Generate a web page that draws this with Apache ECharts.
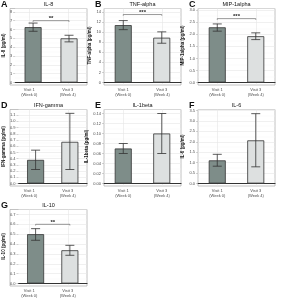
<!DOCTYPE html>
<html>
<head>
<meta charset="utf-8">
<script src="https://cdn.jsdelivr.net/npm/echarts@6/dist/echarts.min.js"></script>
<style>
html, body { margin: 0; padding: 0; background: #fff; }
#main { width: 282px; height: 300px; }
</style>
</head>
<body>
<div id="main"></div>
<script>
// panel data
var panelLetters = ['A', 'B', 'C', 'D', 'E', 'F', 'G'];
var analytes = ['IL-8', 'TNF-alpha', 'MIP-1alpha', 'IFN-gamma', 'IL-1beta', 'IL-6', 'IL-10'];
var visits = ['Visit 1\n(Week 0)', 'Visit 3\n(Week 4)'];
var meanValues = [[6.27, 5.0], [11.4, 8.9], [2.29, 1.92], [0.38, 0.67], [0.070, 0.100], [1.11, 2.07], [0.50, 0.337]];
var errLow = [[5.8, 4.6], [10.5, 7.8], [2.13, 1.78], [0.225, 0.225], [0.060, 0.060], [0.83, 0.80], [0.438, 0.286]];
var errHigh = [[6.73, 5.35], [12.3, 10.06], [2.43, 2.06], [0.536, 1.128], [0.080, 0.140], [1.40, 3.35], [0.556, 0.387]];
var tickSteps = [1, 2, 0.5, 0.1, 0.02, 0.5, 0.1];
var axisMax = [8.38, 14.7, 3.07, 1.19, 0.148, 3.55, 0.75];
var tickDecimals = [0, 0, 1, 1, 2, 1, 1];
var bracketLevels = [7.0, 13.5, 2.65, null, null, null, 0.6];
var bracketStars = ['**', '***', '***', '', '', '', '**'];

var barColors = ['#7e8d89', '#dde0e0'];
var font = 'Liberation Sans, Arial, sans-serif';
var colX = [0, 94, 188];
var rowY = [0, 101, 201];

var chart = echarts.init(document.getElementById('main'), null, {renderer: 'canvas'});

var grids = [], xAxes = [], yAxes = [], series = [], graphics = [];

analytes.forEach(function(name, i) {
    var px = colX[i % 3];
    var py = rowY[Math.floor(i / 3)];
    var left = px + 10, top = py + 8.5, w = 77, h = 76.5;
    var f = 2 * i, d = 2 * i + 1;

    // frame grid (border, x labels, vertical grid lines)
    grids.push({left: left, top: top, width: w, height: h, show: true,
        borderColor: '#b3b3b3', borderWidth: 0.8, backgroundColor: '#fff'});
    // data grid, zero sits a little above the frame bottom
    grids.push({left: left, top: top, width: w, height: h - 2.5});

    xAxes.push({
        gridIndex: f, type: 'category', data: visits,
        axisLine: {show: false},
        axisTick: {alignWithLabel: true, length: 2, lineStyle: {color: '#b3b3b3', width: 0.6}},
        axisLabel: {fontSize: 4, color: '#4d4d4d', lineHeight: 4.6, margin: 2.5, fontFamily: font},
        splitLine: {show: true, alignWithLabel: true, lineStyle: {color: '#e6e6e6', width: 0.6}}
    });
    yAxes.push({gridIndex: f, type: 'value', show: false, min: 0, max: 1});

    xAxes.push({
        gridIndex: d, type: 'category', data: visits,
        axisLine: {show: true, lineStyle: {color: '#333', width: 1.2}},
        axisTick: {show: false}, axisLabel: {show: false}, splitLine: {show: false}
    });
    yAxes.push({
        gridIndex: d, type: 'value', min: 0, max: axisMax[i], interval: tickSteps[i],
        name: name + ' (pg/ml)', nameLocation: 'middle', nameGap: 7,
        nameTextStyle: {fontSize: 4.5, fontWeight: 'bold', color: '#1a1a1a', fontFamily: font},
        axisLine: {show: false},
        axisTick: {show: true, length: 2, lineStyle: {color: '#b3b3b3', width: 0.6}},
        axisLabel: {fontSize: 4, color: '#4d4d4d', margin: 3, showMaxLabel: false, fontFamily: font,
            formatter: function(v) { return v.toFixed(tickDecimals[i]); }},
        splitLine: {show: true, lineStyle: {color: '#e6e6e6', width: 0.6}},
        minorTick: {show: false, splitNumber: 2},
        minorSplitLine: {show: true, lineStyle: {color: '#f3f3f3', width: 0.4}}
    });

    series.push({
        type: 'bar', xAxisIndex: d, yAxisIndex: d, barWidth: 17, z: 3,
        itemStyle: {borderColor: '#333', borderWidth: 0.8},
        data: meanValues[i].map(function(v, k) {
            return {value: v, itemStyle: {color: barColors[k]}};
        })
    });

    series.push({
        type: 'custom', xAxisIndex: d, yAxisIndex: d, z: 4,
        encode: {x: 0, y: [1, 2]},
        data: visits.map(function(c, k) { return [k, errLow[i][k], errHigh[i][k]]; }),
        renderItem: function(params, api) {
            var lo = api.coord([api.value(0), api.value(1)]);
            var hi = api.coord([api.value(0), api.value(2)]);
            var hw = 4.5;
            var st = {stroke: '#333', lineWidth: 0.8, fill: null};
            return {type: 'group', children: [
                {type: 'line', shape: {x1: hi[0], y1: hi[1], x2: lo[0], y2: lo[1]}, style: st},
                {type: 'line', shape: {x1: hi[0] - hw, y1: hi[1], x2: hi[0] + hw, y2: hi[1]}, style: st},
                {type: 'line', shape: {x1: lo[0] - hw, y1: lo[1], x2: lo[0] + hw, y2: lo[1]}, style: st}
            ]};
        }
    });

    if (bracketLevels[i] != null) {
        series.push({
            type: 'custom', xAxisIndex: d, yAxisIndex: d, z: 4,
            encode: {x: [0, 1], y: 2},
            data: [[0, 1, bracketLevels[i], bracketStars[i]]],
            renderItem: function(params, api) {
                var a = api.coord([api.value(0), api.value(2)]);
                var b = api.coord([api.value(1), api.value(2)]);
                var st = {stroke: '#555', lineWidth: 0.6, fill: null};
                return {type: 'group', children: [
                    {type: 'polyline', shape: {points: [[a[0], a[1] + 1.2], [a[0], a[1]], [b[0], b[1]], [b[0], b[1] + 1.2]]}, style: st},
                    {type: 'text', style: {text: bracketStars[i], x: (a[0] + b[0]) / 2, y: a[1] + 1,
                        align: 'center', verticalAlign: 'bottom', fontSize: 6, fontWeight: 'bold',
                        fill: '#222', fontFamily: font}}
                ]};
            }
        });
    }

    graphics.push({type: 'text', x: px + 1, y: py, style: {text: panelLetters[i],
        fontSize: 9, fontWeight: 'bold', fill: '#111', fontFamily: font}});
    graphics.push({type: 'text', x: px + 48.5, y: py + 1.5, style: {text: name,
        fontSize: 5.5, fill: '#111', align: 'center', verticalAlign: 'top', fontFamily: font}});
});

chart.setOption({
    animation: false,
    textStyle: {fontFamily: font},
    grid: grids,
    xAxis: xAxes,
    yAxis: yAxes,
    series: series,
    graphic: graphics
});
</script>
</body>
</html>
